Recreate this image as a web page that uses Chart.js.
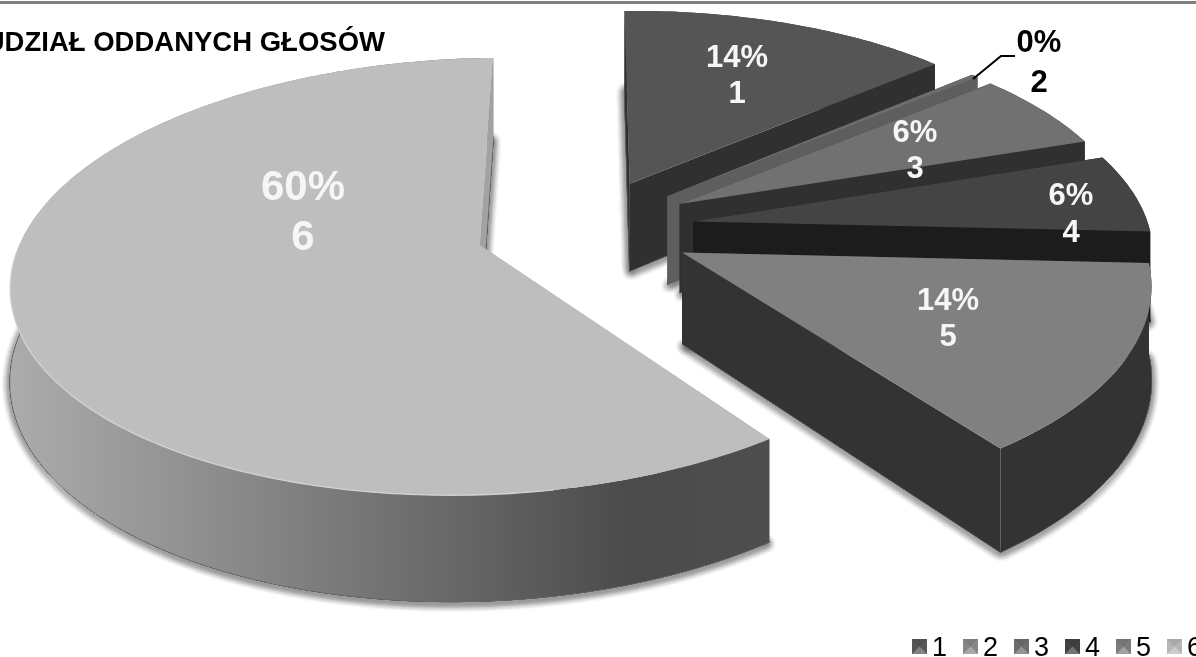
<!DOCTYPE html>
<html lang="pl">
<head>
    <meta charset="UTF-8">
    <title>Udział oddanych głosów</title>
    <script src="https://cdn.jsdelivr.net/npm/chart.js"></script>
    <style>
        html, body { margin: 0; background: #fff; overflow: hidden; }
        canvas { display: block; }
    </style>
</head>
<body>
    <canvas id="votesChart" width="1196" height="657"></canvas>
    <script>
        // data
        const categories = ['1', '2', '3', '4', '5', '6'];
        const shares = [13.8, 0.3, 6, 6, 14, 59.9];
        const chartTitle = 'UDZIAŁ ODDANYCH GŁOSÓW';

        // colours of each slice
        const topColors = ['#555555', '#6c6c6c', '#717171', '#444444', '#808080', '#bebebe'];
        const edgeColors = ['#303030', '#5e5e5e', '#303030', '#1c1c1c', '#333333', '#a2a2a2'];
        const legendColors = ['#5a5a5a', '#8c8c8c', '#717171', '#444444', '#808080', '#bcbcbc'];
        const labelColors = ['#f6f6f6', '#000000', '#f6f6f6', '#f6f6f6', '#f6f6f6', '#f6f6f6'];

        // where the two text lines of each label sit: [x, y of line 1, y of line 2, font px]
        const labelPlaces = [
            [737, 58, 94, 31], [1039, 43, 83, 31], [915, 133, 169, 31],
            [1071, 196, 233, 31], [948, 301, 337, 31], [303, 188, 238, 42]
        ];

        // tilted view of the pie plane, fitted to the picture
        const view = { cx: 585, cy: 228.4, a: 457, b: 84, c: -3.8, d: -176.7, g: 0.002, h: 0.143 };
        const EXPLODE = 0.24;   // every slice is pulled out by this part of the radius
        const DEPTH = 90;       // thickness of the pie

        function project(X, Y) {
            const w = 1 + view.g * X + view.h * Y;
            return { x: (view.cx + view.a * X + view.b * Y) / w, y: (view.cy + view.c * X + view.d * Y) / w, w };
        }
        function lower(p) {
            return { x: p.x, y: p.y + DEPTH / p.w, w: p.w };
        }

        // turn one arc element of the chart into projected outline points
        function sliceGeometry(arc) {
            const mid = (arc.startAngle + arc.endAngle) / 2;
            const ox = EXPLODE * Math.cos(mid);
            const oy = -EXPLODE * Math.sin(mid);
            const rim = [];
            const steps = Math.max(2, Math.ceil((arc.endAngle - arc.startAngle) / 0.015));
            for (let k = 0; k <= steps; k++) {
                const t = arc.startAngle + (arc.endAngle - arc.startAngle) * k / steps;
                rim.push(project(ox + Math.cos(t), oy - Math.sin(t)));
            }
            return { apex: project(ox, oy), rim };
        }

        function tracePoly(ctx, pts) {
            ctx.beginPath();
            pts.forEach((p, i) => i ? ctx.lineTo(p.x, p.y) : ctx.moveTo(p.x, p.y));
            ctx.closePath();
        }

        // side of the large slice runs from light on the left to dark on the right
        function outerFill(ctx, i) {
            if (i !== 5) return edgeColors[i];
            const grad = ctx.createLinearGradient(10, 0, 767, 0);
            grad.addColorStop(0, '#acacac');
            grad.addColorStop(0.38, '#808080');
            grad.addColorStop(0.82, '#4b4b4b');
            grad.addColorStop(1, '#4e4e4e');
            return grad;
        }

        const pie3d = {
            id: 'pie3d',
            beforeDatasetsDraw(chart) {
                const ctx = chart.ctx;
                const slices = chart.getDatasetMeta(0).data.map(sliceGeometry);

                ctx.save();
                ctx.fillStyle = '#808080';
                ctx.fillRect(0, 1, chart.width, 3);

                // soft shadow comes from the bottom outline only
                ctx.save();
                ctx.shadowColor = 'rgba(0,0,0,0.9)';
                ctx.shadowBlur = 7;
                ctx.shadowOffsetY = 2;
                ctx.strokeStyle = '#666666';
                ctx.lineWidth = 1;
                for (let pass = 0; pass < 5; pass++) {
                    slices.forEach(s => {
                        tracePoly(ctx, [s.apex, ...s.rim].map(lower));
                        ctx.stroke();
                    });
                }
                ctx.restore();

                slices.forEach((s, i) => {
                    const first = s.rim[0];
                    const last = s.rim[s.rim.length - 1];
                    // cut face at the start is mostly hidden, goes under the round side
                    ctx.fillStyle = edgeColors[i];
                    tracePoly(ctx, [s.apex, first, lower(first), lower(s.apex)]);
                    ctx.fill();
                    // round side
                    ctx.fillStyle = outerFill(ctx, i);
                    tracePoly(ctx, [...s.rim, ...s.rim.map(lower).reverse()]);
                    ctx.fill();
                    // cut face at the end
                    ctx.fillStyle = edgeColors[i];
                    tracePoly(ctx, [s.apex, last, lower(last), lower(s.apex)]);
                    ctx.fill();
                    // top face
                    ctx.fillStyle = topColors[i];
                    tracePoly(ctx, [s.apex, ...s.rim]);
                    ctx.fill();
                });

                // thin light edge on the front of the large slice
                const big = slices[5].rim;
                ctx.strokeStyle = '#d2d2d2';
                ctx.lineWidth = 1.3;
                ctx.beginPath();
                big.slice(Math.round(big.length * 0.12), Math.round(big.length * 0.58)).forEach((p, i) => {
                    i ? ctx.lineTo(p.x, p.y) : ctx.moveTo(p.x, p.y);
                });
                ctx.stroke();

                // leader of the 0% label
                ctx.strokeStyle = '#000000';
                ctx.lineWidth = 2;
                ctx.beginPath();
                ctx.moveTo(973, 79);
                ctx.lineTo(1001, 56);
                ctx.lineTo(1015, 56);
                ctx.stroke();

                // labels
                ctx.textAlign = 'center';
                ctx.textBaseline = 'middle';
                categories.forEach((name, i) => {
                    const [x, y1, y2, size] = labelPlaces[i];
                    ctx.font = 'bold ' + size + 'px "Liberation Sans"';
                    ctx.fillStyle = labelColors[i];
                    ctx.fillText(Math.round(shares[i]) + '%', x, y1);
                    ctx.fillText(name, x, y2);
                });

                // title, its first letter runs off the left edge
                ctx.textAlign = 'right';
                ctx.font = 'bold 27.5px "Liberation Sans"';
                ctx.fillStyle = '#000000';
                ctx.fillText(chartTitle, 385, 43);

                // legend with bevelled squares: top, right, bottom, left
                const bevels = ['rgba(0,0,0,0.1)', 'rgba(0,0,0,0.03)', 'rgba(255,255,255,0.25)', 'rgba(0,0,0,0.03)'];
                ctx.textAlign = 'left';
                ctx.textBaseline = 'alphabetic';
                ctx.font = '27px "Liberation Sans"';
                categories.forEach((name, i) => {
                    const x = 912 + i * 51;
                    const y = 639;
                    const size = 15;
                    const corners = [{ x, y }, { x: x + size, y }, { x: x + size, y: y + size }, { x, y: y + size }];
                    const middle = { x: x + size / 2, y: y + size / 2 };
                    ctx.fillStyle = legendColors[i];
                    ctx.fillRect(x, y, size, size);
                    bevels.forEach((shade, k) => {
                        ctx.fillStyle = shade;
                        tracePoly(ctx, [corners[k], corners[(k + 1) % 4], middle]);
                        ctx.fill();
                    });
                    ctx.fillStyle = '#000000';
                    ctx.fillText(name, x + 20, 656);
                });
                ctx.restore();
                return false;   // the default flat arcs are not drawn
            }
        };

        new Chart(document.getElementById('votesChart'), {
            type: 'pie',
            data: {
                labels: categories,
                datasets: [{ data: shares, backgroundColor: topColors, borderWidth: 0 }]
            },
            options: {
                responsive: false,
                animation: false,
                devicePixelRatio: 1,
                events: [],
                plugins: {
                    legend: { display: false },
                    title: { display: false },
                    tooltip: { enabled: false }
                }
            },
            plugins: [pie3d]
        });
    </script>
</body>
</html>
